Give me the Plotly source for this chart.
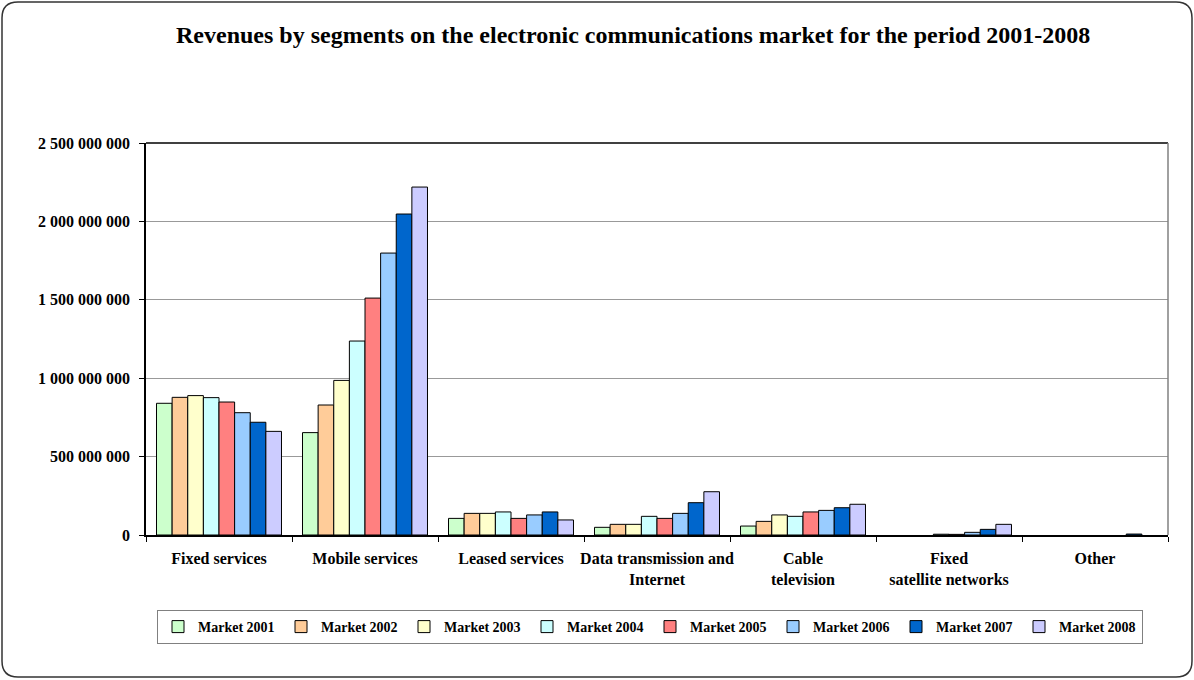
import plotly.graph_objects as go

categories = ["Fixed services", "Mobile services", "Leased services",
              "Data transmission and<br>Internet", "Cable<br>television",
              "Fixed<br>satellite networks", "Other"]
series_names = ["Market 2001", "Market 2002", "Market 2003", "Market 2004",
                "Market 2005", "Market 2006", "Market 2007", "Market 2008"]

market_2001 = [840e6, 653e6, 106e6, 49e6, 57e6, None, None]
market_2002 = [878e6, 829e6, 138e6, 68e6, 87e6, None, None]
market_2003 = [889e6, 986e6, 138e6, 68e6, 128e6, None, None]
market_2004 = [876e6, 1237e6, 147e6, 119e6, 119e6, 5e6, None]
market_2005 = [848e6, 1511e6, 106e6, 106e6, 147e6, 4e6, None]
market_2006 = [780e6, 1798e6, 128e6, 138e6, 157e6, 17e6, None]
market_2007 = [719e6, 2047e6, 147e6, 206e6, 174e6, 36e6, 6e6]
market_2008 = [661e6, 2219e6, 96e6, 276e6, 196e6, 68e6, None]

series_values = [market_2001, market_2002, market_2003, market_2004,
                 market_2005, market_2006, market_2007, market_2008]
colors = ["#CCFFCC", "#FFCC99", "#FFFFCC", "#CCFFFF",
          "#FF8080", "#99CCFF", "#0066CC", "#CCCCFF"]

W, H = 1194, 680
L, R, T, B = 146, 1168, 143, 535
FONT = "Liberation Serif, Times New Roman, serif"

fig = go.Figure()
for name, vals, col in zip(series_names, series_values, colors):
    fig.add_trace(go.Bar(name=name, x=categories, y=vals,
                         marker=dict(color=col, line=dict(color="#000000", width=1))))


def px2paper(px, py):
    return (px - L) / (R - L), (B - py) / (B - T)


def rounded_rect(x0, y0, x1, y1, r):
    def p(x, y):
        a, b = px2paper(x, y)
        return f"{a:.5f},{b:.5f}"
    return (f"M {p(x0 + r, y0)} L {p(x1 - r, y0)} Q {p(x1, y0)} {p(x1, y0 + r)} "
            f"L {p(x1, y1 - r)} Q {p(x1, y1)} {p(x1 - r, y1)} "
            f"L {p(x0 + r, y1)} Q {p(x0, y1)} {p(x0, y1 - r)} "
            f"L {p(x0, y0 + r)} Q {p(x0, y0)} {p(x0 + r, y0)} Z")


shapes = [
    dict(type="path", xref="paper", yref="paper",
         path=rounded_rect(2, 2, 1192, 677, 16),
         line=dict(color="#333333", width=1.5), fillcolor="rgba(0,0,0,0)", layer="below"),
    dict(type="line", xref="paper", yref="paper", x0=0, x1=1, y0=1, y1=1,
         line=dict(color="#000000", width=1.5)),
    dict(type="line", xref="paper", yref="paper", x0=1, x1=1, y0=0, y1=1,
         line=dict(color="#808080", width=1.5)),
]

tx, ty = px2paper(633, 35)
fig.update_layout(
    width=W, height=H, autosize=False,
    margin=dict(l=L, r=W - R, t=T, b=H - B, pad=0),
    paper_bgcolor="white", plot_bgcolor="white",
    barmode="group", bargap=0.144, bargroupgap=0,
    separators=". ",
    font=dict(family=FONT, size=16, color="#000000"),
    shapes=shapes,
    annotations=[dict(text="<b>Revenues by segments on the electronic communications market for the period 2001-2008</b>",
                      xref="paper", yref="paper", x=tx, y=ty, xanchor="center", yanchor="middle",
                      showarrow=False, font=dict(family=FONT, size=24, color="#000000"))],
    xaxis=dict(type="category", showline=True, linecolor="#000000", linewidth=1.5,
               ticks="outside", tickson="boundaries", ticklen=5, tickcolor="#000000",
               ticklabelstandoff=8, tickangle=0,
               tickfont=dict(family=FONT, size=16, weight="bold"), showgrid=False),
    yaxis=dict(range=[0, 2.5e9], dtick=500e6, tickformat=",", showline=True,
               linecolor="#000000", linewidth=1.5, ticks="outside", ticklen=5,
               tickcolor="#000000", showgrid=True, gridcolor="#999999", gridwidth=1,
               ticklabelstandoff=6,
               zeroline=False, tickfont=dict(family=FONT, size=16, weight="bold")),
    legend=dict(orientation="h", x=px2paper(157, 0)[0], xanchor="left",
                y=px2paper(0, 610)[1], yanchor="top",
                bordercolor="#808080", borderwidth=1, bgcolor="white",
                font=dict(family=FONT, size=14, weight="bold"),
                entrywidth=78, entrywidthmode="pixels",
                itemwidth=30, tracegroupgap=0, traceorder="normal"),
    showlegend=True,
)

fig.write_html("out.html")
